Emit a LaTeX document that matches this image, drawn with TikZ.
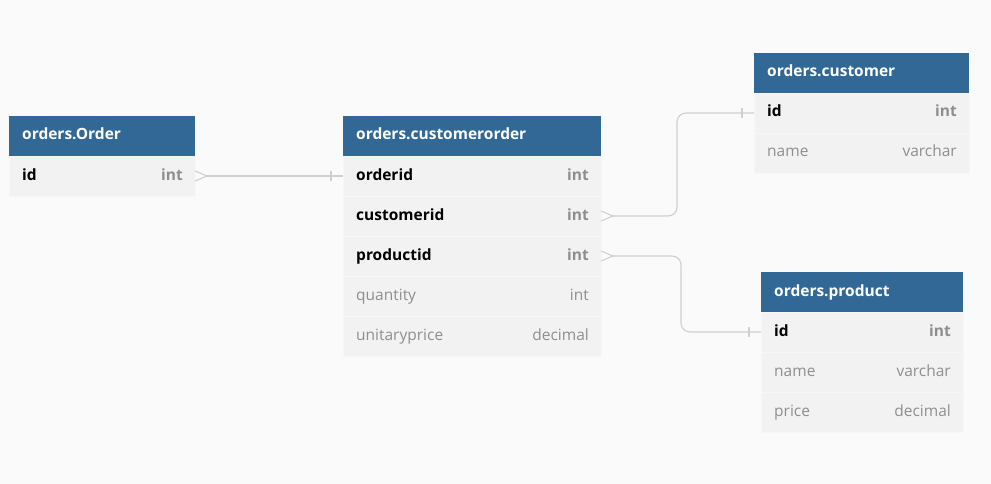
\documentclass[tikz,border=0pt]{standalone}
\usepackage{fontspec}
\setmainfont{Open Sans}
\usetikzlibrary{positioning}
\definecolor{hdblue}{HTML}{316896}
\definecolor{rowbg}{HTML}{F2F2F2}
\definecolor{rowline}{HTML}{F7F7F7}
\definecolor{pagebg}{HTML}{FAFAFA}
\definecolor{txtgray}{HTML}{8E8E8E}
\definecolor{relgray}{HTML}{CFCFCF}
\tikzset{
  header/.style={rectangle, fill=hdblue, inner sep=0pt, outer sep=0pt, anchor=north west, minimum height=40pt},
  row/.style={rectangle, fill=rowbg, draw=rowline, line width=0.6pt, inner sep=0pt, outer sep=0pt, anchor=north west, minimum height=40pt},
  txt/.style={inner sep=0pt, text height=11pt, text depth=3pt, font=\fontsize{15.5}{18}\selectfont},
  title/.style={txt, text=white, font=\fontsize{15.5}{18}\selectfont\bfseries},
  keyname/.style={txt, text=black, font=\fontsize{15.5}{18}\selectfont\bfseries},
  keytype/.style={txt, text=txtgray, font=\fontsize{15.5}{18}\selectfont\bfseries},
  plainname/.style={txt, text=txtgray},
  plaintype/.style={txt, text=txtgray},
  rel/.style={draw=relgray, line width=1.1pt}
}
% #1 node name, #2 position, #3 width, #4 field, #5 type, #6 name style, #7 type style
\newcommand{\dbfield}[7]{
  \node(#1)[row, minimum width=#3pt] at #2 {};
  \node(#1-n)[#6, right=13pt of #1.west] {#4};
  \node(#1-t)[#7, left=12pt of #1.east] {#5};
}

\begin{document}
\begin{tikzpicture}[x=1pt, y=-1pt]
    \fill[pagebg] (0,0) rectangle (991,484);
    \useasboundingbox (0,0) rectangle (991,484);
    % orders.Order
    \node(ord)[header, minimum width=186pt] at (9,116) {};
    \node[title, right=13pt of ord.west] {orders.Order};
    \dbfield{ord-id}{(9,156)}{186}{id}{int}{keyname}{keytype}
    % orders.customerorder
    \node(co)[header, minimum width=258pt] at (343,116) {};
    \node[title, right=13pt of co.west] {orders.customerorder};
    \dbfield{co-orderid}{(343,156)}{258}{orderid}{int}{keyname}{keytype}
    \dbfield{co-customerid}{(343,196)}{258}{customerid}{int}{keyname}{keytype}
    \dbfield{co-productid}{(343,236)}{258}{productid}{int}{keyname}{keytype}
    \dbfield{co-quantity}{(343,276)}{258}{quantity}{int}{plainname}{plaintype}
    \dbfield{co-price}{(343,316)}{258}{unitaryprice}{decimal}{plainname}{plaintype}
    % orders.customer
    \node(cu)[header, minimum width=215pt] at (754,53) {};
    \node[title, right=13pt of cu.west] {orders.customer};
    \dbfield{cu-id}{(754,93)}{215}{id}{int}{keyname}{keytype}
    \dbfield{cu-name}{(754,133)}{215}{name}{varchar}{plainname}{plaintype}
    % orders.product
    \node(pr)[header, minimum width=202pt] at (761,272) {};
    \node[title, right=13pt of pr.west] {orders.product};
    \dbfield{pr-id}{(761,312)}{202}{id}{int}{keyname}{keytype}
    \dbfield{pr-name}{(761,352)}{202}{name}{varchar}{plainname}{plaintype}
    \dbfield{pr-price}{(761,392)}{202}{price}{decimal}{plainname}{plaintype}
    % relations: many side (crow's foot) and one side (tick)
    \draw[rel] (ord-id.east) ++(0,-5) -- ++(12,5) -- ++(-12,5);
    \draw[rel] ([xshift=12pt]ord-id.east) -- (co-orderid.west);
    \draw[rel] ([xshift=-12pt,yshift=-5pt]co-orderid.west) -- ++(0,-10);

    \draw[rel] (co-customerid.east) ++(0,-5) -- ++(12,5) -- ++(-12,5);
    \draw[rel, rounded corners=9pt] ([xshift=12pt]co-customerid.east) -- ++(64,0) |- (cu-id.west);
    \draw[rel] ([xshift=-12pt,yshift=-5pt]cu-id.west) -- ++(0,-10);

    \draw[rel] (co-productid.east) ++(0,-5) -- ++(12,5) -- ++(-12,5);
    \draw[rel, rounded corners=9pt] ([xshift=12pt]co-productid.east) -- ++(68,0) |- (pr-id.west);
    \draw[rel] ([xshift=-12pt,yshift=-5pt]pr-id.west) -- ++(0,-10);
\end{tikzpicture}
\end{document}
